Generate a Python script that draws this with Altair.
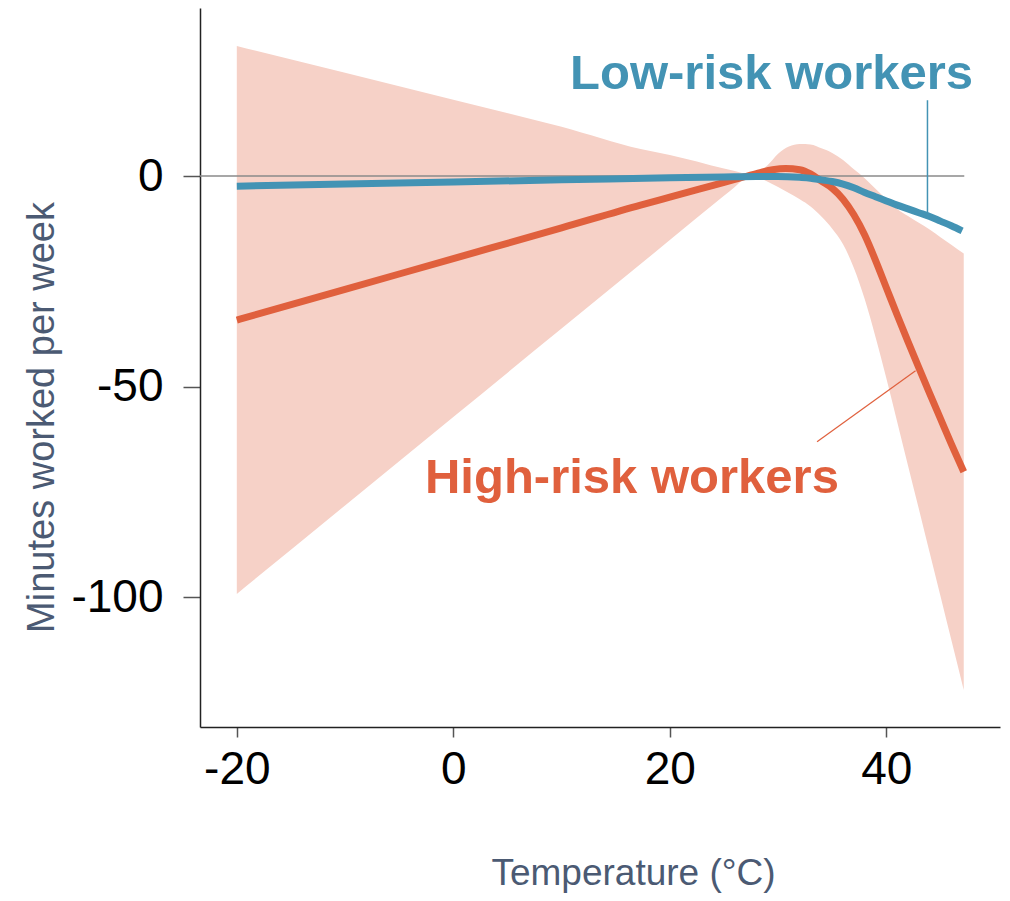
import altair as alt
import pandas as pd

# ---- data ----
low_x = [-20, -10, 0, 10, 20, 25, 28, 30, 32, 33, 34, 35, 36, 37, 38, 39, 40, 41, 42, 43, 44, 45, 46, 47]
low_y = [-2.4, -1.9, -1.4, -0.9, -0.4, -0.2, -0.1, -0.1, -0.3, -0.5, -0.9, -1.3, -1.9, -2.8, -3.9, -4.9, -5.9, -6.9, -7.8, -8.7, -9.6, -10.7, -11.8, -13.0]

high_x = [-20, -10, 0, 10, 17.3, 20, 24, 26, 28, 29.5, 30.7, 32, 33, 34, 35, 36, 37, 38, 39, 40, 41, 42, 43, 44, 45, 46, 47.15]
high_y = [-34.2, -26.9, -19.6, -12.3, -6.9, -5.0, -2.2, -0.8, 0.6, 1.5, 1.8, 1.5, 0.5, -1.2, -2.9, -5.5, -9.2, -14.0, -20.0, -26.5, -33.0, -39.3, -45.5, -51.6, -57.6, -63.6, -70.2]

ci_x = [-20, -10, 0, 10, 17.3, 20, 25, 26, 27, 28, 29, 30, 31, 32, 33, 34, 35, 36, 37, 38, 39, 40, 41, 42, 43, 44, 45, 46, 47.15]
ci_hi = [30.9, 24.5, 18.1, 11.7, 6.4, 5.0, 1.8, 1.2, 0.6, 0.8, 2.5, 5.3, 7.0, 7.6, 7.5, 6.6, 5.5, 3.8, 1.6, -0.5, -3.0, -5.5, -7.8, -9.5, -11.1, -12.7, -14.5, -16.3, -18.4]
ci_lo = [-99.2, -78.2, -57.2, -36.2, -20.9, -15.2, -4.7, -2.6, -0.6, -0.3, -1.3, -2.6, -4.0, -5.5, -7.2, -9.6, -12.5, -16.2, -21.8, -29.2, -38.2, -48.0, -58.3, -68.7, -79.0, -89.4, -99.7, -110.1, -122.0]

x_ticks = [-20, 0, 20, 40]
y_ticks = [-100, -50, 0]

zero_line = {"x": [-23.4], "x2": [47.2], "y": [0]}
low_leader = {"x": [43.8], "y": [18.0], "x2": [43.8], "y2": [-8.8]}
high_leader = {"x": [42.7], "y": [-46.2], "x2": [33.6], "y2": [-63.1]}
labels = {"x": [29.4, 16.5], "y": [20.6, -75.2], "text": ["Low-risk workers", "High-risk workers"], "series": ["low", "high"]}

BLUE = "#4393b4"
RED = "#e0603d"
BAND = "#f6d1c7"
TITLE_COLOR = "#4b5a73"
FONT = "Liberation Sans"

low_df = pd.DataFrame({"x": low_x, "y": low_y})
high_df = pd.DataFrame({"x": high_x, "y": high_y})
ci_df = pd.DataFrame({"x": ci_x, "lo": ci_lo, "hi": ci_hi})

xscale = alt.Scale(domain=[-23.4, 50.5], nice=False, zero=False)
yscale = alt.Scale(domain=[-130.8, 39.9], nice=False, zero=False)

xaxis = alt.Axis(
    values=x_ticks, labelExpr="'' + datum.value", grid=False,
    domainColor="#222222", domainWidth=1.5, tickColor="#555555", tickWidth=1.5,
    tickSize=10, labelPadding=10, labelFont=FONT, labelFontSize=46, labelColor="#000000",
    title="Temperature (°C)", titleFont=FONT, titleFontSize=37, titleFontWeight="normal",
    titleColor=TITLE_COLOR, titleX=433, titleY=157, titleBaseline="alphabetic", titleAlign="center",
)
yaxis = alt.Axis(
    values=y_ticks, labelExpr="'' + datum.value", grid=False,
    domainColor="#222222", domainWidth=1.5, tickColor="#555555", tickWidth=1.5,
    tickSize=17, labelPadding=20, labelFont=FONT, labelFontSize=46, labelColor="#000000",
    title="Minutes worked per week", titleFont=FONT, titleFontSize=38, titleFontWeight="normal",
    titleColor=TITLE_COLOR, titleX=-147, titleY=409, titleAngle=-90, titleBaseline="alphabetic",
    titleAlign="center",
)

band = alt.Chart(ci_df).mark_area(color=BAND, interpolate="monotone").encode(
    x=alt.X("x:Q", scale=xscale, axis=xaxis),
    y=alt.Y("lo:Q", scale=yscale, axis=yaxis),
    y2="hi:Q",
)

zero = alt.Chart(pd.DataFrame(zero_line)).mark_rule(color="#8a8a8a", strokeWidth=1.5).encode(
    x=alt.X("x:Q", scale=xscale), x2="x2:Q", y=alt.Y("y:Q", scale=yscale)
)

high = alt.Chart(high_df).mark_line(color=RED, strokeWidth=7, interpolate="monotone", strokeCap="butt").encode(
    x=alt.X("x:Q", scale=xscale), y=alt.Y("y:Q", scale=yscale)
)
low = alt.Chart(low_df).mark_line(color=BLUE, strokeWidth=7, interpolate="monotone", strokeCap="butt").encode(
    x=alt.X("x:Q", scale=xscale), y=alt.Y("y:Q", scale=yscale)
)

low_lead = alt.Chart(pd.DataFrame(low_leader)).mark_rule(color=BLUE, strokeWidth=1.5).encode(
    x=alt.X("x:Q", scale=xscale), y=alt.Y("y:Q", scale=yscale), x2="x2:Q", y2="y2:Q"
)
high_lead = alt.Chart(pd.DataFrame(high_leader)).mark_rule(color=RED, strokeWidth=1.2).encode(
    x=alt.X("x:Q", scale=xscale), y=alt.Y("y:Q", scale=yscale), x2="x2:Q", y2="y2:Q"
)

text = alt.Chart(pd.DataFrame(labels)).mark_text(
    font=FONT, fontSize=49, fontWeight="bold", align="center", baseline="alphabetic"
).encode(
    x=alt.X("x:Q", scale=xscale), y=alt.Y("y:Q", scale=yscale), text="text:N",
    color=alt.Color("series:N", scale=alt.Scale(domain=["low", "high"], range=[BLUE, RED]), legend=None),
)

chart = alt.layer(band, zero, high_lead, low_lead, high, low, text).properties(
    width=800, height=719,
    autosize=alt.AutoSizeParams(type="none"),
    padding={"left": 192, "top": 0, "right": 2, "bottom": 166},
).configure_view(strokeWidth=0)

chart.save("out.html", embed_options={"renderer": "svg", "actions": False})
